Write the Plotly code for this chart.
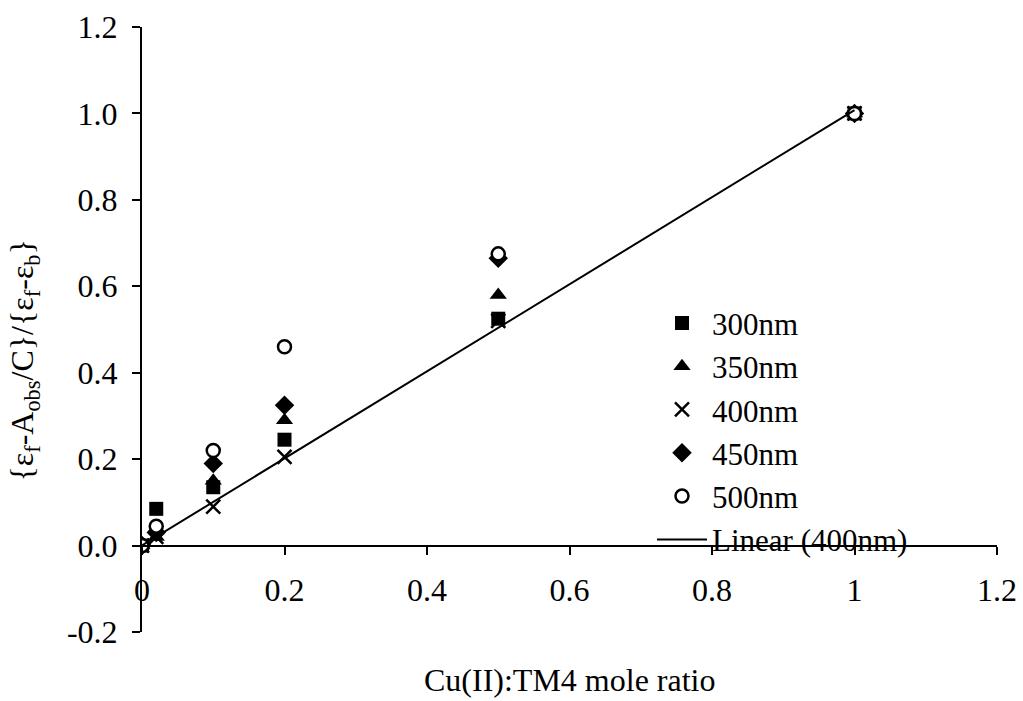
import numpy as np
import plotly.graph_objects as go

# Cu(II):TM4 mole ratios
ratio = [0, 0.02, 0.1, 0.2, 0.5, 1.0]

# normalised absorbance change at each wavelength
y_300 = [0.0, 0.085, 0.135, 0.245, 0.525, 1.0]
y_350 = [0.0, 0.02, 0.15, 0.29, 0.58, 1.0]
y_400 = [0.0, 0.02, 0.09, 0.205, 0.52, 1.0]
y_450 = [0.0, 0.03, 0.19, 0.325, 0.665, 1.0]
y_500 = [0.0, 0.045, 0.22, 0.46, 0.675, 1.0]

x_ticks = [0, 0.2, 0.4, 0.6, 0.8, 1.0, 1.2]
x_tick_text = ["0", "0.2", "0.4", "0.6", "0.8", "1", "1.2"]
y_ticks = [-0.2, 0.0, 0.2, 0.4, 0.6, 0.8, 1.0, 1.2]
y_tick_text = ["-0.2", "0.0", "0.2", "0.4", "0.6", "0.8", "1.0", "1.2"]

FONT = "Liberation Serif, Times New Roman, serif"
FS = 32

# least-squares line through the 400 nm series
slope, intercept = np.polyfit(ratio, y_400, 1)
fit_x = [ratio[0], ratio[-1]]
fit_y = [slope * v + intercept for v in fit_x]

fig = go.Figure()

fig.add_trace(go.Scatter(x=ratio, y=y_300, mode="markers", name="300nm",
                         marker=dict(symbol="square", size=14, color="black")))
fig.add_trace(go.Scatter(x=ratio, y=y_350, mode="markers", name="350nm",
                         marker=dict(symbol="triangle-up", size=15, color="black")))
fig.add_trace(go.Scatter(x=ratio, y=y_400, mode="markers", name="400nm",
                         marker=dict(symbol="x-thin", size=14, color="black",
                                     line=dict(color="black", width=2.5))))
fig.add_trace(go.Scatter(x=ratio, y=y_450, mode="markers", name="450nm",
                         marker=dict(symbol="diamond", size=15, color="black")))
fig.add_trace(go.Scatter(x=ratio, y=y_500, mode="markers", name="500nm",
                         marker=dict(symbol="circle", size=13, color="white",
                                     line=dict(color="black", width=2.5))))
fig.add_trace(go.Scatter(x=fit_x, y=fit_y, mode="lines", name="Linear (400nm)",
                         line=dict(color="black", width=2)))

fig.update_layout(
    width=1023, height=701,
    margin=dict(l=142, r=26, t=27, b=69),
    paper_bgcolor="white", plot_bgcolor="white",
    font=dict(family=FONT, size=FS, color="black"),
    showlegend=True,
    legend=dict(x=0.5965, y=0.555, xanchor="left", yanchor="top",
                bgcolor="rgba(0,0,0,0)", font=dict(family=FONT, size=31),
                itemwidth=50, tracegroupgap=0),
    xaxis=dict(range=[0, 1.2], tickvals=x_ticks, ticktext=x_tick_text,
               showgrid=False, zeroline=False, showline=True, linecolor="black",
               linewidth=2, ticks="outside", ticklen=8, tickwidth=2,
               tickcolor="black", anchor="free", position=0.2 / 1.4,
               ticklabelstandoff=8, automargin=False),
    yaxis=dict(range=[-0.2, 1.2], tickvals=y_ticks, ticktext=y_tick_text,
               showgrid=False, zeroline=False, showline=True, linecolor="black",
               linewidth=2, ticks="outside", ticklen=8, tickwidth=2,
               tickcolor="black", ticklabelstandoff=8, automargin=False),
    annotations=[
        dict(text="{ε<sub>f</sub>-A<sub>obs</sub>/C}/{ε<sub>f</sub>-ε<sub>b</sub>}",
             xref="paper", yref="paper", x=-0.137, y=0.45,
             xanchor="center", yanchor="middle", textangle=-90,
             showarrow=False, font=dict(family=FONT, size=FS)),
        dict(text="Cu(II):TM4 mole ratio",
             xref="paper", yref="paper", x=0.5, y=-0.08,
             xanchor="center", yanchor="middle",
             showarrow=False, font=dict(family=FONT, size=FS)),
    ],
)

fig.write_html("out.html")
